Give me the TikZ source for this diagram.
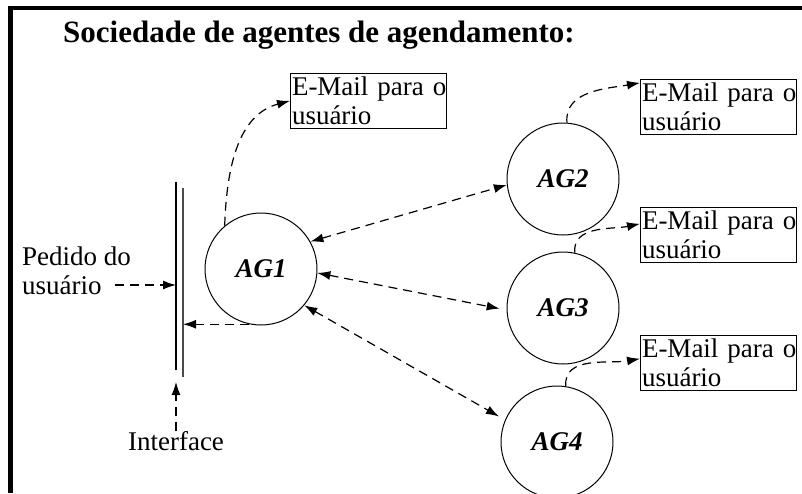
\documentclass[tikz,border=0pt]{standalone}
\usepackage{fontspec}
\setmainfont{Liberation Serif}
\usetikzlibrary{arrows.meta}
\newcommand{\txt}{\fontsize{27}{29}\selectfont}
\newcommand{\mailtext}{\mbox{E-Mail para o}\\usuário}
\tikzset{agent/.style={circle,draw,line width=1pt,minimum size=112pt,inner sep=0pt,font=\txt\bfseries\itshape}}
\tikzset{mailbox/.style={draw,line width=1pt,align=left,text width=153pt,inner xsep=1.5pt,minimum height=53pt,font=\txt}}
\tikzset{label/.style={inner sep=0pt,align=left,font=\txt}}
\tikzset{link/.style={line width=1.2pt,dash pattern=on 9pt off 6pt,-{Latex[length=13pt,width=9pt]}}}
\tikzset{both/.style={link,{Latex[length=13pt,width=9pt]}-{Latex[length=13pt,width=9pt]}}}

\begin{document}
\begin{tikzpicture}[x=1pt,y=-1pt]
\useasboundingbox (0,0) rectangle (802,493);
% frame
\draw [line width=4.5pt] (10.5,493) -- (10.5,8) -- (802,8);
\node [anchor=base west,inner sep=0pt,font=\fontsize{31}{36}\selectfont\bfseries] (title) at (63,42) {Sociedade de agentes de agendamento:};

\node [agent] (ag1) at (261,269) {AG1};
\node [agent] (ag2) at (563,179) {AG2};
\node [agent] (ag3) at (563,308) {AG3};
\node [agent] (ag4) at (557,442) {AG4};

\node [mailbox,anchor=north west] (mail1) at (290,73) {\mailtext};
\node [mailbox,anchor=north west] (mail2) at (640,79) {\mailtext};
\node [mailbox,anchor=north west] (mail3) at (640,207) {\mailtext};
\node [mailbox,anchor=north west] (mail4) at (640,335) {\mailtext};

\node [label,anchor=west] (pedido) at (22,271) {Pedido do\\usuário};
\node [label] (iface) at (176,441) {Interface};

\coordinate (bar1a) at (176,182);
\coordinate (bar1b) at (176,370);
\coordinate (bar2a) at (183,188);
\coordinate (bar2b) at (183,377);
\coordinate (req) at (115,285);

\draw [line width=1.2pt] (bar1a) -- (bar1b);
\draw [line width=1.2pt,black!70] (bar2a) -- (bar2b);

\draw [link] (req) -- (req -| bar1a);
\draw [link,shorten >=12pt] (iface.north) -- (bar1b);
\draw [link] (ag1.258) -- (ag1.258 -| bar2a);

\draw [link] (ag1.130) to [out=88,in=195] (mail1.west);
\draw [link] (ag2.86) to [out=95,in=190] (mail2.163);
\draw [link] (ag3.78) to [out=95,in=192] (mail3.172);
\draw [link] (ag4.81) to [out=95,in=190] (mail4.177);

\draw [both] (ag1.29) -- (ag2.186);
\draw [both,shorten >=7pt] (ag1.356) -- (ag3.182);
\draw [both,shorten >=7pt] (ag1.320) -- (ag4.157);
\end{tikzpicture}
\end{document}
